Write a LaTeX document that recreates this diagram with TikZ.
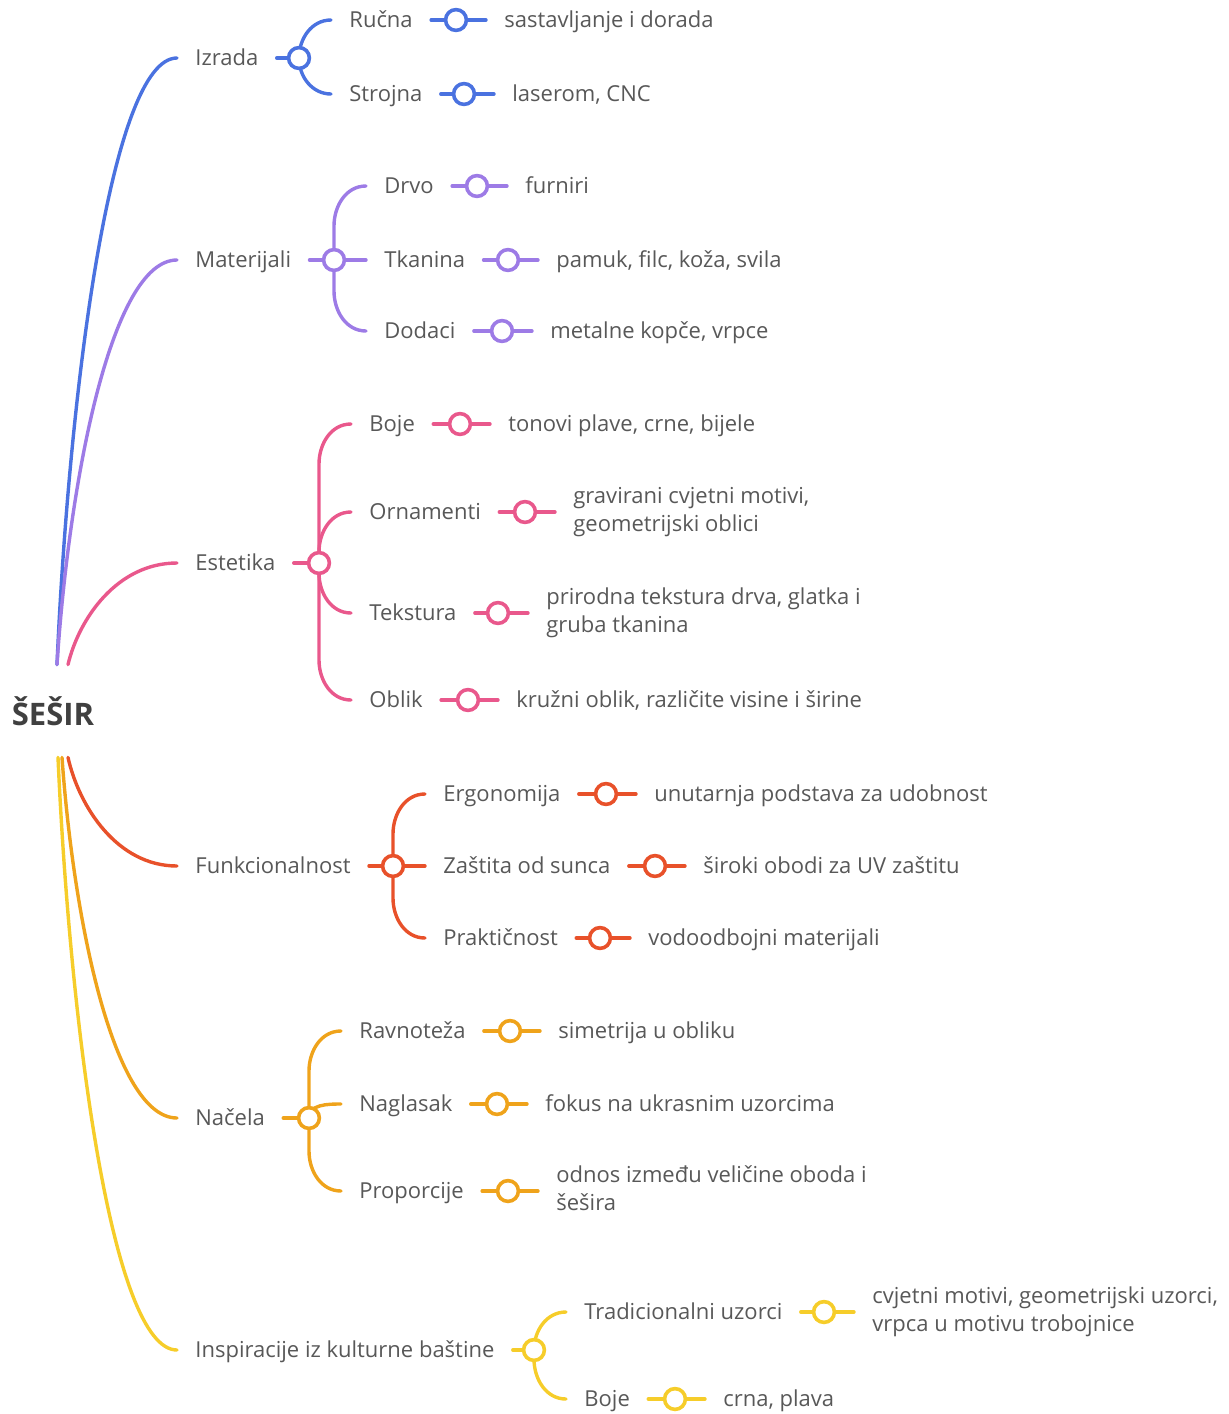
\documentclass[tikz,border=0pt]{standalone}
\usepackage{fontspec}
\setmainfont{Open Sans}
\usetikzlibrary{backgrounds}

\definecolor{txt}{HTML}{585858}
\definecolor{korijen}{HTML}{404040}
\definecolor{cI}{HTML}{4A72E0}
\definecolor{cM}{HTML}{9D7BE6}
\definecolor{cE}{HTML}{E9588C}
\definecolor{cF}{HTML}{E8512A}
\definecolor{cN}{HTML}{EFA31B}
\definecolor{cK}{HTML}{F6CD2A}

% ветка второго уровня: номер, цвет, x и y узла-кружка, список
\newcommand\vetka[5]{%
  \foreach \t/\y/\c/\l [count=\j] in {#5}{
    \node[lbl] (k#1\j) at (#3+32,-\y) {\t};
    \node[knot,draw=#2] (p#1\j) at (\c,-\y) {};
    \node[lbl] (l#1\j) at (\c+30,-\y) {\l};
    \begin{scope}[on background layer]
      \pgfmathsetmacro\d{\y-#4}
      \pgfmathsetmacro\ly{\d>0 ? -(#4+max(\d-40,0)) : -(#4+min(\d+40,0))}
      \pgfmathsetmacro\ang{\d>0 ? -90 : (\d<0 ? 90 : 0)}
      \draw[ln,#2] (o#1.center) -- (#3,\ly) to[out=\ang,in=180] (k#1\j.west);
      \draw[ln,#2] (k#1\j.east) -- (p#1\j.center) -- (l#1\j.west);
    \end{scope}
  }%
}

\begin{document}
\begin{tikzpicture}[x=0.5pt,y=0.5pt,
  every node/.style={text=txt,font=\fontsize{11}{14}\selectfont},
  lbl/.style={anchor=west,inner xsep=9pt,inner ysep=0pt,align=left,
    execute at begin node=\rule{0pt}{10.5pt},
    execute at end node=\rule[-2.7pt]{0pt}{2.7pt}},
  knot/.style={circle,fill=white,line width=1.8pt,minimum size=10.4pt,inner sep=0pt},
  ln/.style={line width=1.7pt,line cap=round}]
\useasboundingbox (0,0) rectangle (1229,-1414);

% корень
\node[text=korijen,font=\fontsize{15.5}{18}\selectfont\bfseries,
  minimum height=46pt,inner xsep=0pt] (r) at (53,-711) {ŠEŠIR};

% первый уровень
\foreach \t/\y/\c/\col/\a/\s/\sy [count=\i] in
  {Izrada/58/299/cI/north/4/665,
   Materijali/260/334/cM/north/4/665,
   Estetika/563/319/cE/north/15/665,
   Funkcionalnost/866/393/cF/south/15/757,
   Načela/1118/309/cN/south/9/757,
   Inspiracije iz kulturne baštine/1350/534/cK/south/5/757}
{
  \node[lbl] (g\i) at (177,-\y) {\t};
  \node[knot,draw=\col] (o\i) at (\c,-\y) {};
  \begin{scope}[on background layer]
    \pgfmathsetmacro\dx{124-\s}
    \pgfmathsetmacro\dy{\y-\sy}
    \draw[ln,\col] ([xshift=\s*0.5pt]r.\a)
      .. controls +(0.1*\dx,-0.45*\dy) and +(-0.55*\dx,0) .. (g\i.west);
    \draw[ln,\col] (g\i.east) -- (o\i.center);
  \end{scope}
}

% второй уровень
\vetka{1}{cI}{299}{58}{Ručna/20/456/{sastavljanje i dorada},
  Strojna/94/464/{laserom, CNC}}
\vetka{2}{cM}{334}{260}{Drvo/186/477/{furniri},
  Tkanina/260/508/{pamuk, filc, koža, svila},
  Dodaci/331/502/{metalne kopče, vrpce}}
\vetka{3}{cE}{319}{563}{Boje/424/460/{tonovi plave, crne, bijele},
  Ornamenti/512/525/{gravirani cvjetni motivi,\\geometrijski oblici},
  Tekstura/613/498/{prirodna tekstura drva, glatka i\\gruba tkanina},
  Oblik/700/468/{kružni oblik, različite visine i širine}}
\vetka{4}{cF}{393}{866}{Ergonomija/794/606/{unutarnja podstava za udobnost},
  Zaštita od sunca/866/655/{široki obodi za UV zaštitu},
  Praktičnost/938/600/{vodoodbojni materijali}}
\vetka{5}{cN}{309}{1118}{Ravnoteža/1031/510/{simetrija u obliku},
  Naglasak/1104/497/{fokus na ukrasnim uzorcima},
  Proporcije/1191/508/{odnos između veličine oboda i\\šešira}}
\vetka{6}{cK}{534}{1350}{Tradicionalni uzorci/1312/824/{cvjetni motivi, geometrijski uzorci,\\vrpca u motivu trobojnice},
  Boje/1399/675/{crna, plava}}
\end{tikzpicture}
\end{document}
